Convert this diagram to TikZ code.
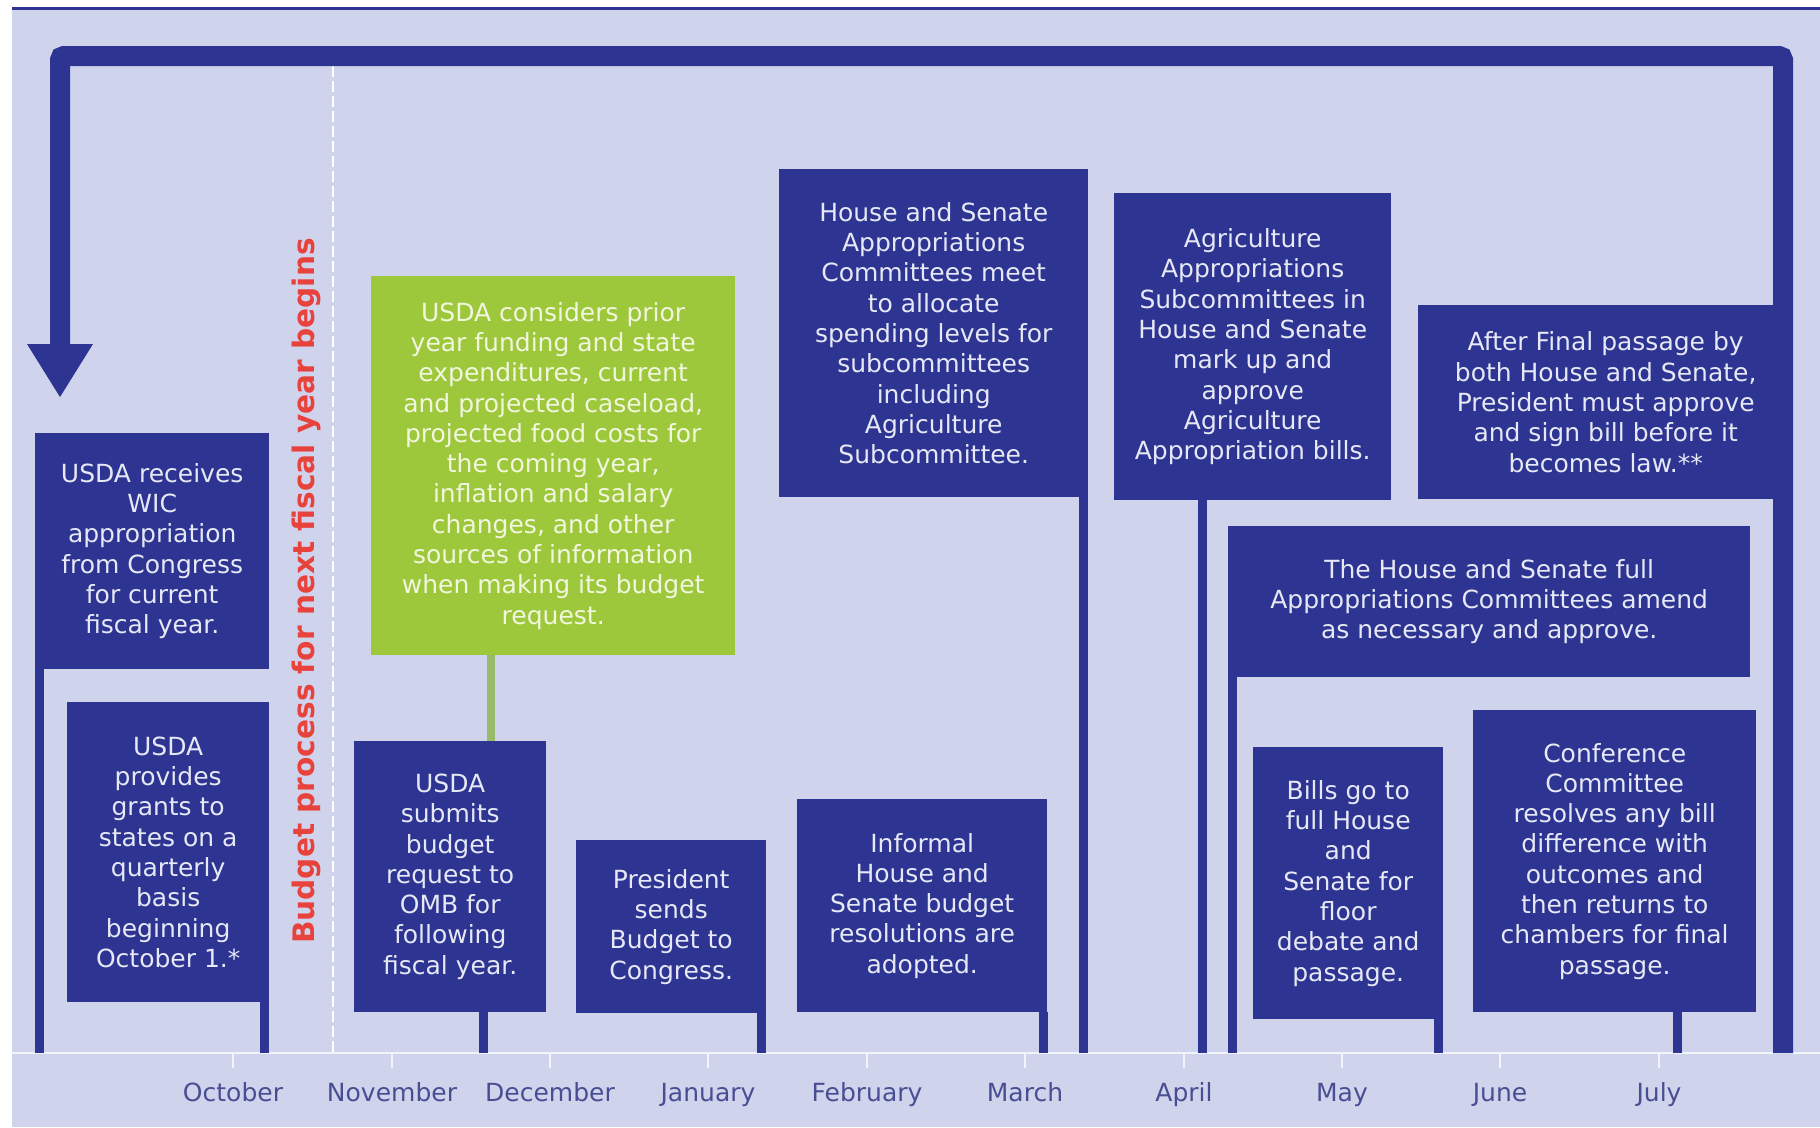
\documentclass[tikz,border=0pt]{standalone}
\usepackage{fontspec}
\setmainfont{DejaVu Sans}
\definecolor{bgc}{RGB}{208,211,236}
\definecolor{dblue}{RGB}{45,52,145}
\definecolor{gbox}{RGB}{157,200,60}
\definecolor{gstemc}{RGB}{150,188,105}
\definecolor{ltext}{RGB}{230,232,246}
\definecolor{gtext}{RGB}{242,246,222}
\definecolor{monthc}{RGB}{72,78,146}
\definecolor{redc}{RGB}{232,66,60}
\definecolor{axisc}{RGB}{242,243,252}
\tikzset{
  box/.style={fill=dblue, text=ltext, align=center, inner sep=0pt, anchor=north west,
    font=\fontsize{25}{30.3}\selectfont},
  greenbox/.style={box, fill=gbox, text=gtext},
  stem/.style={draw=dblue, line width=9pt},
  gstem/.style={draw=gstemc, line width=8pt},
  month/.style={text=monthc, font=\fontsize{25}{30}\selectfont, inner sep=0pt, anchor=base},
  tick/.style={draw=axisc, line width=2pt}
}
\begin{document}
\begin{tikzpicture}[x=1pt,y=-1pt]
\useasboundingbox (0,0) rectangle (1820,1127);
\fill[white] (0,0) rectangle (1820,1127);
\fill[bgc] (12,9) rectangle (1820,1127);
\draw[dblue, line width=3pt] (12,8) -- (1820,8);

% axis
\coordinate (axL) at (12,1053);
\coordinate (axR) at (1820,1053);
\draw[axisc, line width=2.5pt] (axL) -- (axR);

% dashed fiscal-year line
\coordinate (dT) at (333,66);
\coordinate (dB) at (333,1053);
\draw[white, line width=2pt, dash pattern=on 11pt off 4pt] (dT) -- (dB);

% return frame with arrow
\coordinate (fR) at (1783,1053);
\coordinate (fTR) at (1783,56);
\coordinate (fTL) at (60,56);
\coordinate (fL) at (60,350);
\draw[dblue, line width=20pt, rounded corners=4pt] (fR) -- (fTR) -- (fTL) -- (fL);
\fill[dblue] (27,344) -- (93,344) -- (60,397) -- cycle;

% red vertical label
\node[rotate=90, text=redc, inner sep=0pt, font=\fontsize{29.6}{30}\bfseries\selectfont] (rt) at (306,591) {Budget process for next fiscal year begins};

% month labels and ticks
\foreach \n/\x/\m in {m1/233/October, m2/392/November, m3/550/December, m4/708/January, m5/867/February, m6/1025/March, m7/1184/April, m8/1342/May, m9/1500/June, m10/1659/July}{
  \node[month] (\n) at (\x,1101) {\m};
  \draw[tick] (\x,1054) -- (\x,1068);
}

% stem end points on the axis
\coordinate (s1) at (39.5,1053);
\coordinate (s2) at (264.5,1053);
\coordinate (s4) at (483,1053);
\coordinate (s5) at (761.5,1053);
\coordinate (s6) at (1083.5,1053);
\coordinate (s7) at (1043,1053);
\coordinate (s8) at (1202,1053);
\coordinate (s10) at (1232.5,1053);
\coordinate (s11) at (1438.5,1053);
\coordinate (s12) at (1677,1053);
\coordinate (gx) at (491,0);

% stems
\draw[stem] (39.5,669) -- (s1);
\draw[stem] (264.5,1002) -- (s2);
\draw[stem] (483,1012) -- (s4);
\draw[stem] (761.5,1013) -- (s5);
\draw[stem] (1083.5,497) -- (s6);
\draw[stem] (1043,1012) -- (s7);
\draw[stem] (1202,500) -- (s8);
\draw[stem] (1232.5,677) -- (s10);
\draw[stem] (1438.5,1019) -- (s11);
\draw[stem] (1677,1012) -- (s12);

% boxes
\node[box, minimum width=234pt, minimum height=236pt] (b1) at (35,433)
  {USDA receives\\WIC\\appropriation\\from Congress\\for current\\fiscal year.};
\node[box, minimum width=202pt, minimum height=300pt] (b2) at (67,702)
  {USDA\\provides\\grants to\\states on a\\quarterly\\basis\\beginning\\October 1.*};
\node[greenbox, minimum width=364pt, minimum height=379pt] (g) at (371,276)
  {USDA considers prior\\year funding and state\\expenditures, current\\and projected caseload,\\projected food costs for\\the coming year,\\inflation and salary\\changes, and other\\sources of information\\when making its budget\\request.};
\node[box, minimum width=192pt, minimum height=271pt] (b4) at (354,741)
  {USDA\\submits\\budget\\request to\\OMB for\\following\\fiscal year.};
\node[box, minimum width=190pt, minimum height=173pt] (b5) at (576,840)
  {President\\sends\\Budget to\\Congress.};
\node[box, minimum width=309pt, minimum height=328pt] (b6) at (779,169)
  {House and Senate\\Appropriations\\Committees meet\\to allocate\\spending levels for\\subcommittees\\including\\Agriculture\\Subcommittee.};
\node[box, minimum width=250pt, minimum height=213pt] (b7) at (797,799)
  {Informal\\House and\\Senate budget\\resolutions are\\adopted.};
\node[box, minimum width=277pt, minimum height=307pt] (b8) at (1114,193)
  {Agriculture\\Appropriations\\Subcommittees in\\House and Senate\\mark up and\\approve\\Agriculture\\Appropriation bills.};
\node[box, minimum width=375pt, minimum height=194pt] (b9) at (1418,305)
  {After Final passage by\\both House and Senate,\\President must approve\\and sign bill before it\\becomes law.**};
\node[box, minimum width=522pt, minimum height=151pt] (b10) at (1228,526)
  {The House and Senate full\\Appropriations Committees amend\\as necessary and approve.};
\node[box, minimum width=190pt, minimum height=272pt] (b11) at (1253,747)
  {Bills go to\\full House\\and\\Senate for\\floor\\debate and\\passage.};
\node[box, minimum width=283pt, minimum height=302pt] (b12) at (1473,710)
  {Conference\\Committee\\resolves any bill\\difference with\\outcomes and\\then returns to\\chambers for final\\passage.};

% green link between the green box and box 4
\draw[gstem] (g.south -| gx) -- (b4.north -| gx);
\end{tikzpicture}
\end{document}
